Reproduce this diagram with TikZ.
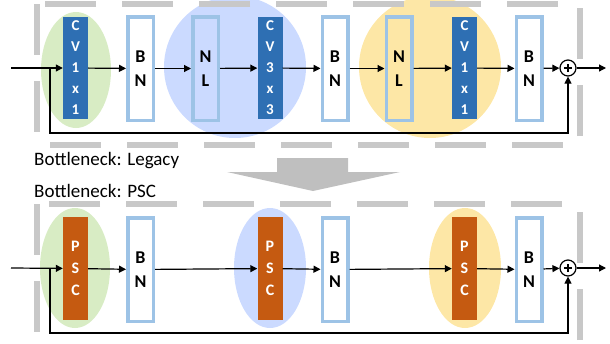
\documentclass[tikz,border=0pt]{standalone}
\usepackage{fontspec}
\setmainfont{Carlito}
\usetikzlibrary{arrows.meta}
\definecolor{cvblue}{HTML}{2E6FB3}
\definecolor{pscorange}{HTML}{C55A11}
\definecolor{bnline}{HTML}{9DC3E6}
\definecolor{greenbg}{HTML}{D8ECC4}
\definecolor{bluebg}{HTML}{CBDAFF}
\definecolor{yellowbg}{HTML}{FDE7A6}
\definecolor{framegray}{HTML}{C8C8C8}
\definecolor{arrowgray}{HTML}{BFBFBF}
\tikzset{
  arr/.style={-{Triangle[length=7pt,width=7pt]}, line width=1.2pt},
  cvblock/.style={fill=cvblue, text=white, inner sep=0pt, align=center, minimum width=25pt, minimum height=102pt, font=\bfseries\fontsize{15}{21}\selectfont},
  pscblock/.style={fill=pscorange, text=white, inner sep=0pt, align=center, minimum width=25pt, minimum height=103pt, font=\bfseries\fontsize{16}{22}\selectfont},
  bnbox/.style={draw=bnline, line width=3.5pt, fill=white, inner sep=0pt, align=center, minimum width=25.5pt, minimum height=103.5pt, font=\bfseries\fontsize{18}{24}\selectfont},
  nlbox/.style={bnbox, fill=none},
  plus/.style={draw, circle, line width=1.2pt, minimum size=16pt, inner sep=0pt,
    path picture={\draw[line width=1.2pt] ([xshift=-4pt]path picture bounding box.center) -- ([xshift=4pt]path picture bounding box.center);
      \draw[line width=1.2pt] ([yshift=-4pt]path picture bounding box.center) -- ([yshift=4pt]path picture bounding box.center);}},
  frame/.style={draw=framegray, line width=6pt, dash pattern=on 51pt off 26pt}
}
\begin{document}
\begin{tikzpicture}[x=1pt, y=-1pt]
    \useasboundingbox (0,0) rectangle (610,343);
    % backgrounds
    \fill[greenbg] (76,70) ellipse [x radius=35pt, y radius=58pt];
    \fill[bluebg] (235,67) circle [radius=71pt];
    \fill[yellowbg] (430,67) circle [radius=71pt];
    \fill[greenbg] (75,268) ellipse [x radius=35pt, y radius=60pt];
    \fill[bluebg] (270,268) ellipse [x radius=36pt, y radius=60pt];
    \fill[yellowbg] (465,268) ellipse [x radius=36pt, y radius=60pt];
    \draw[frame] (37,4) rectangle (580,145);
    \draw[frame] (37,204) rectangle (580,347);
    % legacy bottleneck
    \node[cvblock] (cva) at (75.5,68) {C\\V\\1\\x\\1};
    \node[bnbox] (bna) at (140.5,68.5) {B\\N};
    \node[nlbox] (nla) at (205.5,68.5) {N\\L};
    \node[cvblock] (cvb) at (270,68) {C\\V\\3\\x\\3};
    \node[bnbox] (bnb) at (335,68.5) {B\\N};
    \node[nlbox] (nlc) at (399,68.5) {N\\L};
    \node[cvblock] (cvc) at (464.5,68) {C\\V\\1\\x\\1};
    \node[bnbox] (bnc) at (529,68.5) {B\\N};
    \node[plus] (plusa) at (568,68) {};
    \coordinate (ina) at (11,68); \coordinate (outa) at (606,68);
    \coordinate (skipa) at (50,68); \coordinate (skipab) at (50,133);
    \draw[arr] (ina) -- (cva); \draw[arr] (cva) -- (bna); \draw[arr] (bna) -- (nla);
    \draw[arr] (nla) -- (cvb); \draw[arr] (cvb) -- (bnb); \draw[arr] (bnb) -- (nlc);
    \draw[arr] (nlc) -- (cvc); \draw[arr] (cvc) -- (bnc); \draw[arr] (bnc) -- (plusa);
    \draw[arr] (plusa) -- (outa);
    \draw[arr] (skipa) -- (skipab) -| (plusa);
    % labels and arrow between
    \node[anchor=base west, inner sep=0pt, font=\fontsize{19}{23}\selectfont] (lgcy) at (34,165) {Bottleneck: Legacy};
    \node[anchor=base west, inner sep=0pt, font=\fontsize{19}{23}\selectfont] (pscl) at (34,197) {Bottleneck: PSC};
    \fill[arrowgray] (277,158) -- (348,158) -- (348,172) -- (400,172) -- (313,191) -- (227,172) -- (277,172) -- cycle;
    % psc bottleneck
    \node[pscblock] (psca) at (75.5,268.5) {P\\S\\C};
    \node[bnbox] (bnd) at (140.5,269.5) {B\\N};
    \node[pscblock] (pscb) at (270,268.5) {P\\S\\C};
    \node[bnbox] (bne) at (335,269.5) {B\\N};
    \node[pscblock] (pscc) at (464.5,268.5) {P\\S\\C};
    \node[bnbox] (bnf) at (529,269.5) {B\\N};
    \node[plus] (plusb) at (568,268) {};
    \coordinate (inb) at (11,268); \coordinate (outb) at (606,268);
    \coordinate (skipb) at (50,268); \coordinate (skipbb) at (50,333);
    \draw[arr] (inb) -- (psca); \draw[arr] (psca) -- (bnd); \draw[arr] (bnd) -- (pscb);
    \draw[arr] (pscb) -- (bne); \draw[arr] (bne) -- (pscc); \draw[arr] (pscc) -- (bnf);
    \draw[arr] (bnf) -- (plusb); \draw[arr] (plusb) -- (outb);
    \draw[arr] (skipb) -- (skipbb) -| (plusb);
\end{tikzpicture}
\end{document}
